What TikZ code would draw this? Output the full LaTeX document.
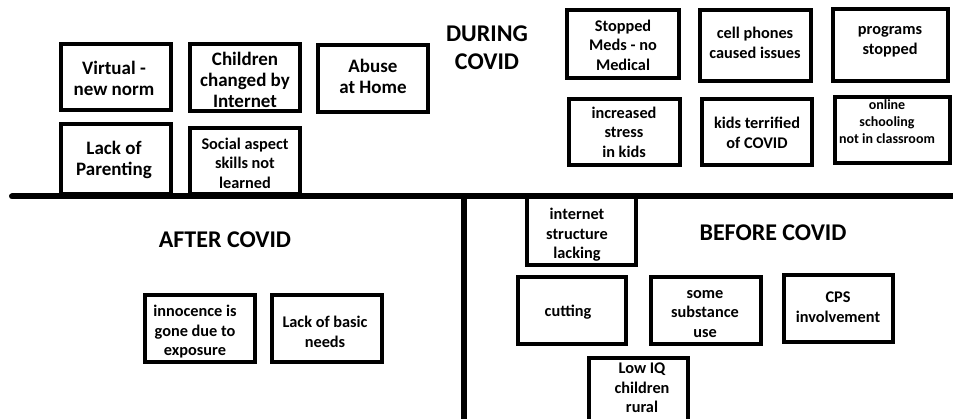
\documentclass[tikz,border=0pt]{standalone}
\usepackage{fontspec}
\setmainfont{Carlito}
\begin{document}
\begin{tikzpicture}[x=1pt,y=-1pt,
  box/.style={draw=black,line width=4pt,rectangle,inner sep=0pt,outer sep=0pt},
  txt/.style={font=\bfseries\fontsize{19}{21}\selectfont,align=center,inner sep=0pt},
  small/.style={font=\bfseries\fontsize{16.3}{19.5}\selectfont,align=center,inner sep=0pt},
  tiny/.style={font=\bfseries\fontsize{14}{17}\selectfont,align=center,inner sep=0pt},
  head/.style={font=\bfseries\fontsize{24}{28}\selectfont,align=center,inner sep=0pt},
  divider/.style={line width=6pt,line cap=round}]
\useasboundingbox (0,0) rectangle (953,419);
\fill[white] (0,0) rectangle (953,419);

% boxes: centre, width, height
\newcommand{\pbox}[5]{\node[box,minimum width=#4pt,minimum height=#5pt] (#1) at (#2,#3) {};}

% DURING COVID
\pbox{virtual}{116}{77}{110}{66}
\pbox{children}{245}{77.5}{110}{67}
\pbox{abuse}{373}{78.5}{110}{67}
\pbox{parent}{116}{159}{110}{70}
\pbox{social}{245}{161}{110}{66}
\pbox{stopped}{623}{44}{112}{68}
\pbox{cell}{755.5}{45.5}{111}{71}
\pbox{programs}{890.5}{45}{115}{72}
\pbox{stress}{624.5}{132}{111}{66}
\pbox{terrified}{757}{132}{110}{66}
\pbox{online}{892.5}{130}{115}{66}

% AFTER COVID
\pbox{innocence}{200}{328.5}{110}{67}
\pbox{basic}{327}{328.5}{110}{67}

% BEFORE COVID
\pbox{internet}{581.5}{230.5}{109}{69}
\pbox{cutting}{572}{310.5}{108}{67}
\pbox{substance}{706}{310.5}{110}{67}
\pbox{cps}{838.5}{308.5}{109}{67}
\pbox{lowiq}{638.5}{391}{99}{66}

% dividing lines
\coordinate (hl) at (12,196.5);
\coordinate (hr) at (956,196.5);
\coordinate (vt) at (464,196.5);
\coordinate (vb) at (464,422);
\draw[divider] (hl) -- (hr);
\draw[line width=6pt] (vt) -- (vb);

% headings
\node[head] (hduring) at (487,48) {DURING\\COVID};
\node[head] (hafter) at (225,240) {AFTER COVID};
\node[head] (hbefore) at (773,233) {BEFORE COVID};

% labels
\node[txt] (tvirtual) at (114,78) {Virtual -\\new norm};
\node[txt] (tchildren) at (245,79.5) {Children\\changed by\\Internet};
\node[txt] (tabuse) at (373,76) {Abuse\\at Home};
\node[txt] (tparent) at (114,160) {Lack of\\Parenting};
\node[small] (tsocial) at (245,163) {Social aspect\\skills not\\learned};
\node[small] (tstopped) at (623,45) {Stopped\\Meds - no\\Medical};
\node[small] (tcell) at (755,43) {cell phones\\caused issues};
\node[small] (tprograms) at (890,42) {programs\\stopped};
\node[small] (tstress) at (624,132) {increased\\stress\\in kids};
\node[small] (tterrified) at (757,133) {kids terrified\\of COVID};
\node[tiny] (tonline) at (887,122) {online\\schooling\\not in classroom};
\node[small] (tinnocence) at (195,332) {innocence is\\gone due to\\exposure};
\node[small] (tbasic) at (325,332) {Lack of basic\\needs};
\node[small] (tinternet) at (577,235) {internet\\structure\\lacking};
\node[small] (tcutting) at (568,312) {cutting};
\node[small] (tsubstance) at (705,314) {some\\substance\\use};
\node[small] (tcps) at (838,307) {CPS\\involvement};
\node[small] (tlowiq) at (642,388) {Low IQ\\children\\rural};
\end{tikzpicture}
\end{document}
